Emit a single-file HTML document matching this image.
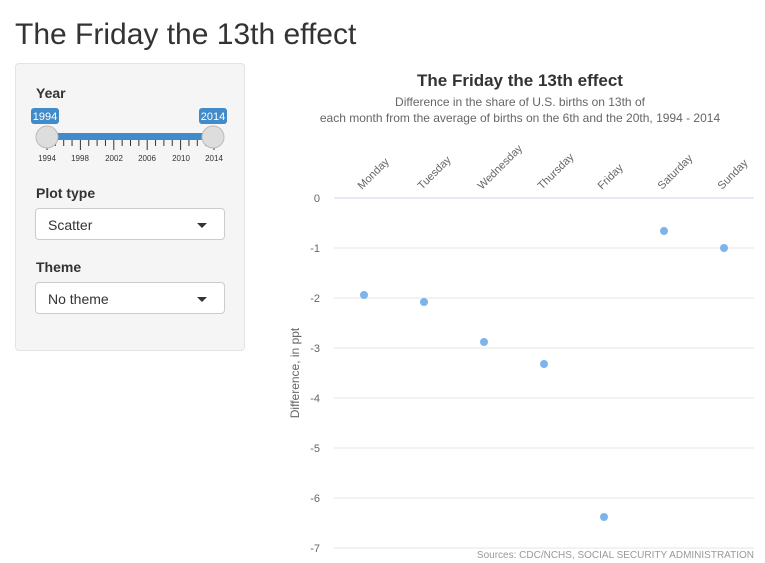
<!DOCTYPE html>
<html><head><meta charset="utf-8"><style>
body{margin:0;width:765px;height:563px;background:#fff;font-family:"Liberation Sans",sans-serif;color:#333;position:relative;overflow:hidden}
h1{position:absolute;left:15px;top:18px;margin:0;font-weight:400;font-size:30px;color:#333}
.panel{position:absolute;left:15px;top:63px;width:228px;height:286px;background:#f5f5f5;border:1px solid #e3e3e3;border-radius:4px}
.lbl{position:absolute;left:20px;font-weight:700;font-size:14px;color:#333}
.sel{position:absolute;left:19px;width:188px;height:32px;border:1px solid #ccc;border-radius:4px;background:#fff;font-size:14px;line-height:32px;padding-left:12px;box-sizing:border-box;width:190px}
.sel:after{content:"";position:absolute;right:17px;top:14px;border-left:5px solid transparent;border-right:5px solid transparent;border-top:5px solid #333}
</style></head><body>
<h1>The Friday the 13th effect</h1>
<div class="panel">
<div class="lbl" style="top:21px">Year</div>
<svg style="position:absolute;left:0;top:40px" width="228" height="65">
<rect x="15" y="4" width="28" height="16" rx="3" fill="#428bca"/><text x="29" y="16" fill="#fff" font-size="11" text-anchor="middle">1994</text>
<rect x="183" y="4" width="28" height="16" rx="3" fill="#428bca"/><text x="197" y="16" fill="#fff" font-size="11" text-anchor="middle">2014</text>
<rect x="30" y="29" width="167" height="7" fill="#428bca"/>
<g stroke="#333" stroke-width="1" id="ticks"></g>
<g font-size="8" fill="#333" text-anchor="middle"><text x="31" y="57">1994</text><text x="64" y="57">1998</text><text x="98" y="57">2002</text><text x="131" y="57">2006</text><text x="165" y="57">2010</text><text x="198" y="57">2014</text></g>
<circle cx="31" cy="33" r="11" fill="#ddd" stroke="#bbb"/>
<circle cx="197" cy="33" r="11" fill="#ddd" stroke="#bbb"/>
</svg>
<div class="lbl" style="top:121px">Plot type</div>
<div class="sel" style="top:144px">Scatter</div>
<div class="lbl" style="top:195px">Theme</div>
<div class="sel" style="top:218px">No theme</div>
</div>
<svg id="chart" style="position:absolute;left:0;top:0" width="765" height="563">
<text x="520" y="86" text-anchor="middle" font-size="17" font-weight="700" fill="#333">The Friday the 13th effect</text>
<text x="520" y="106" text-anchor="middle" font-size="12" fill="#666">Difference in the share of U.S. births on 13th of</text>
<text x="520" y="122" text-anchor="middle" font-size="12" fill="#666">each month from the average of births on the 6th and the 20th, 1994 - 2014</text>
<text transform="translate(299,373) rotate(-90)" text-anchor="middle" font-size="12" fill="#666">Difference, in ppt</text>
<text x="754" y="558" text-anchor="end" font-size="10" fill="#999">Sources: CDC/NCHS, SOCIAL SECURITY ADMINISTRATION</text>
<g id="plot"></g>
</svg>
<script>
const categories=["Monday","Tuesday","Wednesday","Thursday","Friday","Saturday","Sunday"];
const values=[-1.94,-2.08,-2.88,-3.32,-6.38,-0.66,-1.0];
const yTicks=[0,-1,-2,-3,-4,-5,-6,-7];
const NS="http://www.w3.org/2000/svg";
const x0=334,x1=754,y0=198,yUnit=50;
const bw=(x1-x0)/categories.length;
const xPos=i=>x0+bw*(i+0.5);
const yPos=v=>y0-v*yUnit;
const g=document.getElementById('plot');
function mk(t,a){const e=document.createElementNS(NS,t);for(const k in a)e.setAttribute(k,a[k]);g.appendChild(e);return e;}
yTicks.forEach(t=>{
 const l=mk('line',{x1:x0,x2:x1,y1:yPos(t),y2:yPos(t),stroke:t===0?'#ccd6eb':'#e6e6e6','stroke-width':1});
 
 
 const tx=mk('text',{x:320,y:yPos(t)+4,'text-anchor':'end','font-size':11,fill:'#666'});
 tx.textContent=t;
 
 
});
categories.forEach((c,i)=>{
 const tx=mk('text',{transform:`translate(${xPos(i)-2},190) rotate(-45)`,'font-size':11,fill:'#666'});
 tx.textContent=c;
 
 
});
values.forEach((v,i)=>{
 const p=mk('circle',{cx:xPos(i),cy:yPos(v),r:4,fill:'#7cb5ec'});
 
 
});
const tk=document.getElementById('ticks');
for(let i=0;i<=20;i++){const x=31+i*8.35;const l=document.createElementNS(NS,'line');l.setAttribute('x1',x);l.setAttribute('x2',x);l.setAttribute('y1',36);l.setAttribute('y2',i%4===0?46:42);tk.appendChild(l);}
</script>
</body></html>
